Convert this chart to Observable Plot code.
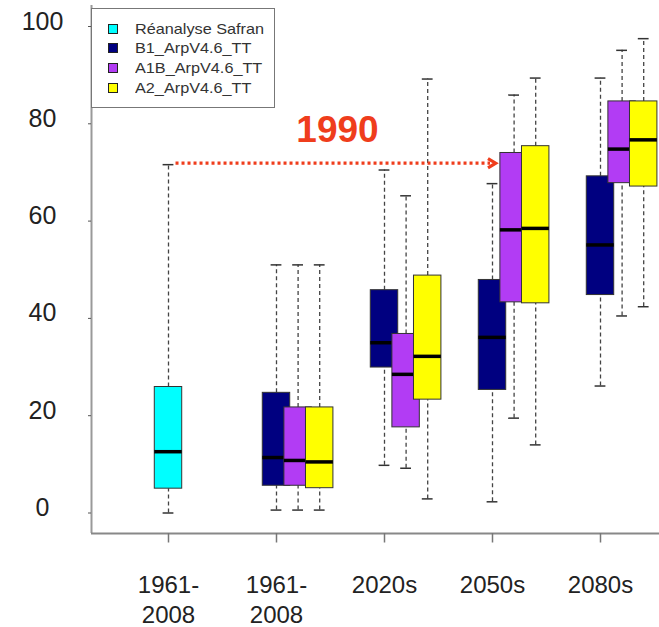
<!DOCTYPE html>
<html>
<head>
<meta charset="utf-8">
<script src="https://cdn.jsdelivr.net/npm/d3@7"></script>
<script src="https://cdn.jsdelivr.net/npm/@observablehq/plot@0.6"></script>
<style>
  html, body { margin: 0; padding: 0; background: #fff; }
  #wrap { position: relative; width: 659px; height: 627px; overflow: hidden; font-family: "Liberation Sans", Arial, sans-serif; }
  #legend { position: absolute; left: 91px; top: 8px; width: 182px; height: 98px; border: 1.5px solid #777; background: #fff; box-sizing: content-box; }
  .sw { position: absolute; left: 16px; width: 8px; height: 8px; border: 1px solid #222; }
  .lab { position: absolute; left: 43px; font-size: 14.5px; color: #333; white-space: nowrap; transform: scaleX(1.12); transform-origin: left center; line-height: 16px; }
</style>
</head>
<body>
<div id="wrap"></div>
<script>
// ---- data ----
const tickLabels = ["1961-\n2008", "1961-\n2008", "2020s", "2050s", "2080s"];
const yTicks = [0, 20, 40, 60, 80, 100];
const seriesNames = ["Réanalyse Safran", "B1_ArpV4.6_TT", "A1B_ArpV4.6_TT", "A2_ArpV4.6_TT"];
const seriesColors = ["#00ffff", "#000080", "#b23cf4", "#ffff00"];
// [period index, min, q1, median, q3, max]
const safran = [[1, 0.0, 5.0, 12.6, 25.9, 71.6]];
const b1  = [[2, 0.6, 5.6, 11.4, 24.7, 51.0], [3, 9.8, 29.9, 35.0, 45.8, 70.5], [4, 2.3, 25.3, 36.1, 47.9, 67.7], [5, 26.1, 44.8, 55.1, 69.2, 89.4]];
const a1b = [[2, 0.6, 5.6, 10.8, 21.7, 51.0], [3, 9.2, 17.6, 28.5, 36.8, 65.2], [4, 19.5, 43.3, 58.2, 74.0, 85.9], [5, 40.5, 67.8, 74.8, 84.6, 95.1]];
const a2  = [[2, 0.6, 5.1, 10.5, 21.7, 51.0], [3, 2.9, 23.3, 32.2, 48.8, 89.2], [4, 14.0, 43.1, 58.5, 75.4, 89.4], [5, 42.4, 67.1, 76.7, 84.6, 97.5]];
// annotation arrow: [x start, x end] in period units, level
const arrowX = [1.065, 4.037];
const arrowLevel = [71.9];
const arrowLabel = ["1990"];

// ---- layout ----
const W = 659, H = 627;
const xDomain = [1 - 77 / 108, 1 + 491 / 108];
const yDomain = [-20.5 / 4.865, 507.5 / 4.865];
const offsets = [0, 0, 0.2, 0.4];
const half = 0.127, cap = 0.05;
const red = "#ef3d1c";

const allSeries = [safran, b1, a1b, a2];
const marks = [];
allSeries.forEach((arr, si) => {
  const rows = arr.map(r => ({x: r[0] + offsets[si], min: r[1], q1: r[2], med: r[3], q3: r[4], max: r[5]}));
  marks.push(
    Plot.ruleX(rows, {x: "x", y1: "q3", y2: "max", stroke: "#444", strokeWidth: 1.3, strokeDasharray: "4,3"}),
    Plot.ruleX(rows, {x: "x", y1: "min", y2: "q1", stroke: "#444", strokeWidth: 1.3, strokeDasharray: "4,3"}),
    Plot.ruleY(rows, {y: "max", x1: d => d.x - cap, x2: d => d.x + cap, stroke: "#333", strokeWidth: 1.5}),
    Plot.ruleY(rows, {y: "min", x1: d => d.x - cap, x2: d => d.x + cap, stroke: "#333", strokeWidth: 1.5}),
    Plot.rect(rows, {x1: d => d.x - half, x2: d => d.x + half, y1: "q1", y2: "q3", fill: seriesColors[si], stroke: "#333", strokeWidth: 1}),
    Plot.ruleY(rows, {y: "med", x1: d => d.x - half, x2: d => d.x + half, stroke: "#000", strokeWidth: 3.5})
  );
});

const arrowData = [{x1: arrowX[0], x2: arrowX[1], y: arrowLevel[0], label: arrowLabel[0]}];

// chevron arrowhead symbol (tip at the point)
const chevron = {
  draw(ctx) {
    ctx.moveTo(-8.5, -4.6);
    ctx.lineTo(-0.8, 0);
    ctx.lineTo(-8.5, 4.6);
  }
};

const chart = Plot.plot({
  width: W, height: H,
  marginLeft: 91, marginRight: 0, marginTop: 5, marginBottom: 94,
  style: {fontFamily: "'Liberation Sans', Arial, sans-serif", background: "#fff", overflow: "visible"},
  x: {type: "linear", domain: xDomain},
  y: {domain: yDomain},
  marks: [
    Plot.ruleX([xDomain[0]], {stroke: "#999", strokeWidth: 2}),
    Plot.ruleY([yDomain[0]], {stroke: "#888", strokeWidth: 2}),
    Plot.axisY({ticks: yTicks, tickSize: 3, tickFormat: () => "", stroke: "#555", label: null}),
    Plot.axisY({ticks: yTicks, tickSize: 0, tickPadding: 49, textAnchor: "middle", fontSize: 25, fill: "#222", dy: -5, label: null}),
    Plot.axisX({ticks: [1, 2, 3, 4, 5], tickFormat: i => tickLabels[i - 1], tickSize: 9.5, tickPadding: 29, fontSize: 24, lineHeight: 1.25, stroke: "#777", strokeWidth: 1.5, fill: "#222", label: null}),
    ...marks,
    Plot.link(arrowData, {x1: "x1", x2: d => d.x2 - 0.06, y1: "y", y2: "y", stroke: red, strokeWidth: 3.2, strokeDasharray: "3,3", strokeLinecap: "butt"}),
    Plot.dot(arrowData, {x: "x2", y: "y", symbol: chevron, r: 5, fill: "none", stroke: red, strokeWidth: 3.2, strokeLinejoin: "miter"}),
    Plot.text(arrowData, {x: d => (d.x1 + d.x2) / 2, y: "y", dx: 1.5, dy: -33, text: "label", fontSize: 37, fontWeight: "bold", fill: red, textAnchor: "middle"})
  ]
});

const wrap = document.getElementById("wrap");
wrap.appendChild(chart);

// legend
const legend = document.createElement("div");
legend.id = "legend";
const rowCenters = [20.3, 39.3, 59, 78.7];
seriesNames.forEach((name, i) => {
  const sw = document.createElement("div");
  sw.className = "sw";
  sw.style.top = (rowCenters[i] - 5) + "px";
  sw.style.background = seriesColors[i];
  const lab = document.createElement("div");
  lab.className = "lab";
  lab.style.top = (rowCenters[i] - 8) + "px";
  lab.textContent = name;
  legend.appendChild(sw);
  legend.appendChild(lab);
});
wrap.appendChild(legend);
</script>
</body>
</html>
